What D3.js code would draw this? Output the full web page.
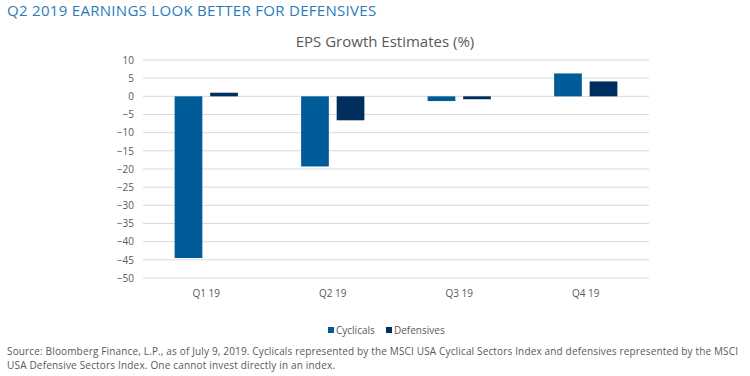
<html lang="en">
<head>
<meta charset="UTF-8">
<title>EPS Growth Estimates</title>
<style>
  body { margin: 0; background: #fff; }
  text { font-family: "Open Sans", sans-serif; }
</style>
</head>
<body>
<script src="https://d3js.org/d3.v7.min.js"></script>
<div id="my_dataviz"></div>
<script>

// data
var quarters = ["Q1 19", "Q2 19", "Q3 19", "Q4 19"];
var series = ["Cyclicals", "Defensives"];
var cyclicals = [-44.5, -19.3, -1.3, 6.3];
var defensives = [1.0, -6.6, -0.8, 4.1];
var yTicks = [10, 5, 0, -5, -10, -15, -20, -25, -30, -35, -40, -45, -50];

var colors = {Cyclicals: "#005c99", Defensives: "#002f5f"};

var width = 750, height = 376;
var margin = {top: 60, left: 143, right: 101, bottom: 98};

var svg = d3.select("#my_dataviz")
  .append("svg")
    .attr("width", width)
    .attr("height", height);

// headline
svg.append("text")
  .attr("x", 7).attr("y", 16)
  .style("font-size", "15px")
  .style("fill", "#2b7bb8")
  .style("letter-spacing", "0.3px")
  .text("Q2 2019 EARNINGS LOOK BETTER FOR DEFENSIVES");

svg.append("text")
  .attr("x", 385).attr("y", 47)
  .attr("text-anchor", "middle")
  .style("font-size", "15px")
  .style("fill", "#595959")
  .text("EPS Growth Estimates (%)");

var x0 = d3.scaleBand()
  .domain(quarters)
  .range([margin.left, width - margin.right])
  .paddingInner(0.5)
  .paddingOuter(0.25);

var x1 = d3.scaleBand()
  .domain(series)
  .range([0, x0.bandwidth()])
  .paddingInner(0.22);

var y = d3.scaleLinear()
  .domain([-50, 10])
  .range([height - margin.bottom, margin.top]);

// gridlines
svg.append("g")
  .selectAll("line")
  .data(yTicks)
  .enter()
  .append("line")
    .attr("x1", margin.left)
    .attr("x2", width - margin.right)
    .attr("y1", function(d) { return y(d); })
    .attr("y2", function(d) { return y(d); })
    .attr("stroke", "#d9d9d9")
    .attr("stroke-width", 1);

// y axis labels
var yAxis = svg.append("g")
  .attr("transform", "translate(" + margin.left + ",0)")
  .call(d3.axisLeft(y).tickValues(yTicks).tickSize(0).tickPadding(9));
yAxis.select(".domain").remove();
yAxis.selectAll("text")
  .style("font-family", "'Open Sans', sans-serif")
  .style("font-size", "10px")
  .style("fill", "#595959");

// x axis labels
var xAxis = svg.append("g")
  .attr("transform", "translate(0," + (height - margin.bottom) + ")")
  .call(d3.axisBottom(x0).tickSize(0).tickPadding(12));
xAxis.select(".domain").remove();
xAxis.selectAll("text")
  .style("font-family", "'Open Sans', sans-serif")
  .style("font-size", "10px")
  .style("fill", "#595959");

// bars
var rows = quarters.map(function(q, i) {
  return [{q: q, s: "Cyclicals", v: cyclicals[i]},
          {q: q, s: "Defensives", v: defensives[i]}];
});

svg.append("g")
  .selectAll("g")
  .data(rows)
  .enter()
  .append("g")
    .attr("transform", function(d) { return "translate(" + x0(d[0].q) + ",0)"; })
  .selectAll("rect")
  .data(function(d) { return d; })
  .enter()
  .append("rect")
    .attr("x", function(d) { return x1(d.s); })
    .attr("width", x1.bandwidth())
    .attr("y", function(d) { return y(Math.max(0, d.v)); })
    .attr("height", function(d) { return Math.abs(y(d.v) - y(0)); })
    .attr("fill", function(d) { return colors[d.s]; });

// legend
var legend = svg.append("g").attr("transform", "translate(328,334)");
var lx = [0, 58];
series.forEach(function(s, i) {
  legend.append("rect")
    .attr("x", lx[i]).attr("y", -7)
    .attr("width", 6).attr("height", 6)
    .attr("fill", colors[s]);
  legend.append("text")
    .attr("x", lx[i] + 8).attr("y", 0)
    .style("font-size", "10px")
    .style("fill", "#595959")
    .text(s);
});

// source note
var note = svg.append("text")
  .attr("x", 7).attr("y", 355)
  .style("font-size", "10px")
  .style("fill", "#595959");
note.append("tspan")
  .attr("x", 7)
  .attr("textLength", 731)
  .text("Source: Bloomberg Finance, L.P., as of July 9, 2019. Cyclicals represented by the MSCI USA Cyclical Sectors Index and defensives represented by the MSCI");
note.append("tspan")
  .attr("x", 7).attr("dy", 14)
  .attr("textLength", 328)
  .text("USA Defensive Sectors Index. One cannot invest directly in an index.");

</script>
</body>
</html>
